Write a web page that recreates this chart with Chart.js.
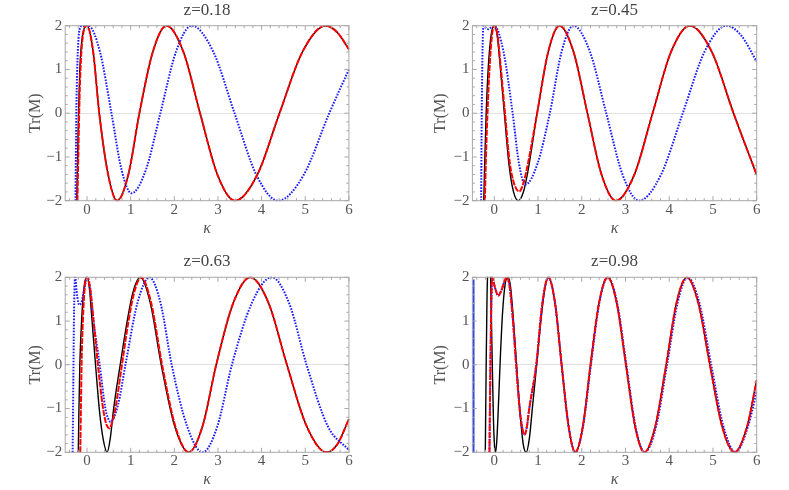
<!DOCTYPE html>
<html>
<head>
<meta charset="utf-8">
<script src="https://cdn.jsdelivr.net/npm/chart.js@4.4.1/dist/chart.umd.min.js"></script>
<style>
  body { margin: 0; background: #fff; }
  #wrap { position: relative; width: 789px; height: 490px; }
  canvas { position: absolute; }
</style>
</head>
<body>
<div id="wrap">
  <canvas id="c1" width="394" height="245" style="left:0;top:0"></canvas>
  <canvas id="c2" width="395" height="245" style="left:394px;top:0"></canvas>
  <canvas id="c3" width="394" height="245" style="left:0;top:245px"></canvas>
  <canvas id="c4" width="395" height="245" style="left:394px;top:245px"></canvas>
</div>
<script>
// axis ticks
const xTicks = [0, 1, 2, 3, 4, 5, 6];
const yTicks = [-2, -1, 0, 1, 2];
const yTickLabels = ['\u22122', '\u22121', '0', '1', '2'];
const titles = ['z=0.18', 'z=0.45', 'z=0.63', 'z=0.98'];

// z=0.18  [kappa, Tr(M)]
const z018Tail = [[0.14,1.41],[0.28,0],[0.485,-1.41],[0.69,-2],
  [0.945,-1.41],[1.20,0],[1.51,1.41],[1.82,2],
  [2.205,1.41],[2.59,0],[2.99,-1.41],[3.39,-2],
  [3.90,-1.41],[4.41,0],[4.94,1.41],[5.47,2],[5.74,1.84],[6.0,1.46]];
const z018Red = [[-0.22,-2],[-0.20,-1],[-0.18,0],[-0.15,1],[-0.09,1.8],[0,2]].concat(z018Tail);
const z018Black = [[-0.235,-2],[-0.215,-1],[-0.195,0],[-0.165,1],[-0.10,1.8],[0,2]].concat(z018Tail);
const z018Blue = [[-0.265,-2],[-0.245,0],[-0.225,1],[-0.195,1.7],[-0.15,1.97],[-0.1,2],[-0.04,1.99],[0.03,2],
  [0.295,1.41],[0.56,0],[0.79,-1.29],[1.02,-1.83],
  [1.35,-1.29],[1.68,0],[2.04,1.41],[2.40,2],
  [2.89,1.41],[3.38,0],[3.88,-1.41],[4.38,-2],
  [4.965,-1.41],[5.55,0],[6.0,1.0]];

// z=0.45
const z045Tail = [[0.98,0],[1.235,1.41],[1.49,2],
  [1.81,1.41],[2.13,0],[2.455,-1.41],[2.78,-2],
  [3.20,-1.41],[3.62,0],[4.045,1.41],[4.47,2],
  [4.97,1.41],[5.47,0],[6.0,-1.41]];
const z045Red = [[-0.215,-2],[-0.19,-1],[-0.155,0],[-0.11,1],[-0.05,1.8],[0.01,2],
  [0.08,1.75],[0.13,1.25],[0.245,0],[0.35,-1.1],[0.45,-1.6],[0.57,-1.79],[0.68,-1.55],[0.78,-1.1]].concat(z045Tail);
const z045Black = [[-0.24,-2],[-0.215,-1],[-0.185,0],[-0.14,1],[-0.07,1.8],[0,2],
  [0.07,1.75],[0.12,1.25],[0.23,0],[0.34,-1.2],[0.44,-1.8],[0.55,-2],[0.66,-1.82],[0.765,-1.35]].concat(z045Tail);
const z045Blue = [[-0.30,-2],[-0.29,-0.5],[-0.275,1],[-0.26,1.8],[-0.245,2],[-0.2,1.96],[-0.14,1.92],[-0.07,1.96],[0,2],
  [0.21,1.41],[0.42,0],[0.565,-1.15],[0.71,-1.63],
  [0.99,-1.15],[1.27,0],[1.54,1.41],[1.81,2],
  [2.185,1.41],[2.56,0],[2.935,-1.41],[3.31,-2],
  [3.81,-1.41],[4.31,0],[4.81,1.41],[5.31,2],
  [5.65,1.77],[6.0,1.18]];

// z=0.63
const z063Tail = [[2.645,-1.41],[2.96,0],[3.35,1.41],[3.74,2],
  [4.16,1.41],[4.58,0],[5.035,-1.41],[5.49,-2],[5.74,-1.81],[6.0,-1.24]];
const z063Black = [[-0.2,-2],[-0.185,-1],[-0.165,0],[-0.125,1],[-0.065,1.8],[0,2],
  [0.06,1.7],[0.10,1.2],[0.195,0],[0.29,-1.1],[0.37,-1.7],[0.46,-2],
  [0.53,-1.7],[0.61,-1.0],[0.76,0],[0.92,1.0],[1.05,1.65],[1.22,2],
  [1.45,1.41],[1.70,0],[2.01,-1.41],[2.33,-2]].concat(z063Tail);
const z063Red = [[-0.155,-2],[-0.14,-1],[-0.125,0],[-0.095,1],[-0.05,1.8],[0,2],
  [0.07,1.75],[0.13,1.2],[0.25,0],[0.36,-0.95],[0.44,-1.35],[0.51,-1.45],[0.58,-1.3],[0.65,-1.0],
  [0.80,0],[0.95,1.0],[1.08,1.65],[1.24,2],
  [1.47,1.41],[1.72,0],[2.025,-1.41],[2.33,-2]].concat(z063Tail);
const z063Blue = [[-0.33,-2],[-0.315,-0.5],[-0.30,1],[-0.285,1.8],[-0.27,2],[-0.24,1.7],[-0.20,1.42],[-0.17,1.37],[-0.12,1.45],[-0.06,1.75],[0.01,2],
  [0.08,1.7],[0.15,1],[0.29,0],[0.42,-1],[0.48,-1.22],[0.535,-1.3],
  [0.71,-0.92],[0.88,0],[1.155,1.41],[1.43,2],
  [1.685,1.41],[1.94,0],[2.295,-1.41],[2.65,-2],
  [2.985,-1.41],[3.32,0],[3.775,1.41],[4.23,2],
  [4.63,1.41],[5.03,0],[5.52,-1.41],[6.0,-1.95]];

// z=0.98
const z098Tail = [[1.39,1.41],[1.54,0],[1.70,-1.41],[1.85,-2],
  [2.025,-1.41],[2.20,0],[2.395,1.41],[2.59,2],
  [2.80,1.41],[3.01,0],[3.22,-1.41],[3.43,-2],
  [3.68,-1.41],[3.93,0],[4.165,1.41],[4.40,2],
  [4.665,1.41],[4.93,0],[5.21,-1.41],[5.49,-2],
  [5.78,-1.41],[6.0,-0.35]];
const z098Red = [[-0.11,-2],[-0.095,-0.6],[-0.08,0.6],[-0.065,1.5],[-0.05,2],[0.02,1.75],[0.09,1.58],[0.17,1.72],[0.24,1.93],[0.29,2],
  [0.35,1.8],[0.42,1.1],[0.50,0],[0.58,-1.0],[0.64,-1.45],[0.69,-1.6],[0.74,-1.45],[0.80,-1.0],
  [0.96,0],[1.10,1.41],[1.235,2]].concat(z098Tail);
const z098Black = [[-0.205,-2],[-0.185,0],[-0.165,1.6],[-0.15,2.1],[-0.115,2.5],[-0.085,2.1],[-0.07,1.3],[-0.045,0],[-0.02,-1.2],[0.005,-1.85],[0.03,-2],
  [0.06,-1.7],[0.10,-0.8],[0.14,0.2],[0.19,1.2],[0.25,1.85],[0.31,2],
  [0.37,1.8],[0.44,1.0],[0.51,0],[0.59,-1.1],[0.66,-1.8],[0.73,-2],
  [0.80,-1.7],[0.88,-0.9],[0.97,0],[1.06,0.95],[1.15,1.7],[1.235,2]].concat(z098Tail);
const z098Blue = [[-0.11,-2],[-0.095,-0.6],[-0.08,0.6],[-0.065,1.5],[-0.05,2],[0.02,1.75],[0.09,1.58],[0.17,1.72],[0.24,1.93],[0.29,2],
  [0.35,1.8],[0.42,1.1],[0.50,0],[0.58,-1.0],[0.64,-1.45],[0.69,-1.6],[0.74,-1.45],[0.80,-1.0],
  [0.96,0],[1.10,1.41],[1.235,2],[1.39,1.41],[1.54,0],[1.70,-1.41],[1.85,-2],
  [2.03,-1.41],[2.21,0],[2.40,1.41],[2.60,2],
  [2.81,1.41],[3.02,0],[3.23,-1.41],[3.44,-2],
  [3.70,-1.41],[3.95,0],[4.19,1.41],[4.42,2],
  [4.69,1.41],[4.96,0],[5.24,-1.41],[5.52,-2],
  [5.80,-1.41],[6.0,-0.61]];
const z098BlueEdge = [[-0.48,-2],[-0.48,1.95]];

const SERIF = "'Liberation Serif', 'DejaVu Serif', serif";

// Mathematica style frame with inward ticks on all sides
const frameTicks = {
  id: 'frameTicks',
  afterDraw(chart) {
    const {ctx, chartArea: a, scales: {x, y}} = chart;
    ctx.save();
    ctx.strokeStyle = '#a8a8a8';
    ctx.lineWidth = 1;
    ctx.strokeRect(a.left, a.top, a.right - a.left, a.bottom - a.top);
    ctx.beginPath();
    for (let i = Math.ceil(x.min / 0.2 - 1e-6); i * 0.2 <= x.max + 1e-6; i++) {
      const v = i * 0.2;
      const len = Math.abs(v - Math.round(v)) < 1e-6 ? 4.5 : 2.5;
      const px = x.getPixelForValue(v);
      ctx.moveTo(px, a.bottom); ctx.lineTo(px, a.bottom - len);
      ctx.moveTo(px, a.top); ctx.lineTo(px, a.top + len);
    }
    for (let i = Math.ceil(y.min / 0.2 - 1e-6); i * 0.2 <= y.max + 1e-6; i++) {
      const v = i * 0.2;
      const len = Math.abs(v - Math.round(v)) < 1e-6 ? 4.5 : 2.5;
      const py = y.getPixelForValue(v);
      ctx.moveTo(a.left, py); ctx.lineTo(a.left + len, py);
      ctx.moveTo(a.right, py); ctx.lineTo(a.right - len, py);
    }
    ctx.stroke();
    ctx.restore();
  }
};

function curve(data, kind) {
  const base = {data: data, pointRadius: 0, fill: false, tension: 0.4,
    cubicInterpolationMode: 'monotone', clip: 0.5};
  if (kind === 'red') return Object.assign(base, {borderColor: '#ff0000', borderWidth: 2, borderDash: [6, 1.2]});
  if (kind === 'blue') return Object.assign(base, {borderColor: '#1a1aff', borderWidth: 2, borderDash: [1.6, 1.4]});
  return Object.assign(base, {borderColor: '#000000', borderWidth: 1.4});
}

function makePanel(id, title, sets, box) {
  new Chart(document.getElementById(id), {
    type: 'line',
    data: {datasets: sets},
    options: {
      responsive: false,
      animation: false,
      events: [],
      layout: {padding: {left: 0, right: box.padRight, top: 0, bottom: 0}},
      plugins: {
        legend: {display: false},
        tooltip: {enabled: false},
        title: {
          display: true, text: title, fullSize: false, color: '#444',
          font: {family: SERIF, size: 17, weight: 'normal'},
          padding: {top: box.titleTop, bottom: box.titleBottom}
        }
      },
      scales: {
        x: {
          type: 'linear', min: -0.5, max: 6,
          afterBuildTicks: s => { s.ticks = xTicks.map(v => ({value: v})); },
          afterFit: s => { s.height = box.xH; },
          grid: {display: false, drawTicks: false},
          border: {display: false},
          ticks: {color: '#555', padding: 0, maxRotation: 0, font: {family: SERIF, size: 15}},
          title: {display: true, text: 'κ', color: '#555',
            font: {family: SERIF, size: 16, style: 'italic'},
            padding: {top: 0, bottom: box.xTitleBottom}}
        },
        y: {
          type: 'linear', min: -2, max: 2,
          afterBuildTicks: s => { s.ticks = yTicks.map(v => ({value: v})); },
          afterFit: s => { s.width = box.yW; },
          grid: {drawTicks: false, color: c => (c.tick && c.tick.value === 0) ? '#e2e2e2' : 'rgba(0,0,0,0)'},
          border: {display: false},
          ticks: {color: '#555', padding: 3, font: {family: SERIF, size: 15},
            callback: (v, i) => yTickLabels[i]},
          title: {display: true, text: 'Tr(M)', color: '#555',
            font: {family: SERIF, size: 16},
            padding: {top: box.yTitleTop, bottom: 0}}
        }
      }
    },
    plugins: [frameTicks]
  });
}

const leftBox = {padRight: 45.1, yW: 65.2, yTitleTop: 26.4};
const rightBox = {padRight: 32.3, yW: 78.4, yTitleTop: 37.4};
const topRow = {titleTop: 0.3, titleBottom: 5.0, xH: 44.3, xTitleBottom: 6.7};
const bottomRow = {titleTop: 6.5, titleBottom: 5.4, xH: 37.7, xTitleBottom: 0.3};

makePanel('c1', titles[0],
  [curve(z018Red, 'red'), curve(z018Blue, 'blue'), curve(z018Black, 'black')],
  Object.assign({}, leftBox, topRow));
makePanel('c2', titles[1],
  [curve(z045Red, 'red'), curve(z045Blue, 'blue'), curve(z045Black, 'black')],
  Object.assign({}, rightBox, topRow));
makePanel('c3', titles[2],
  [curve(z063Red, 'red'), curve(z063Blue, 'blue'), curve(z063Black, 'black')],
  Object.assign({}, leftBox, bottomRow));
makePanel('c4', titles[3],
  [curve(z098Red, 'red'), curve(z098Blue, 'blue'), curve(z098Black, 'black'),
   {data: z098BlueEdge, pointRadius: 0, borderColor: '#3344ff', borderWidth: 2.5, tension: 0, fill: false}],
  Object.assign({}, rightBox, bottomRow));
</script>
</body>
</html>
